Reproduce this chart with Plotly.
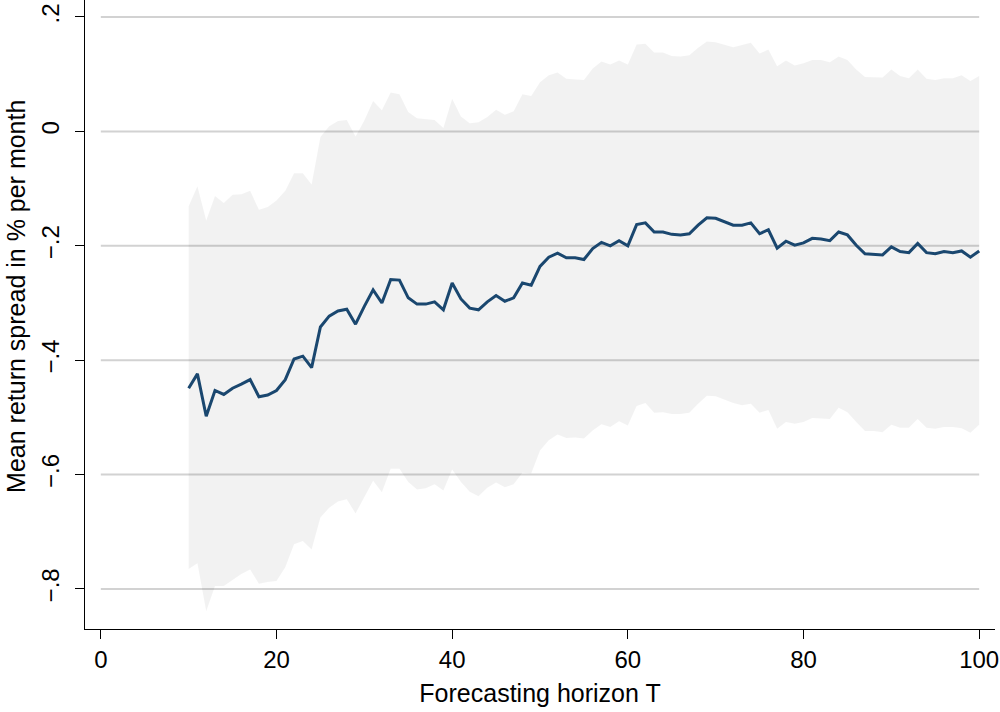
import plotly.graph_objects as go

horizon = list(range(10, 101))

mean_spread = [
    -0.449, -0.424, -0.498, -0.453, -0.460, -0.449, -0.442, -0.434, -0.464, -0.461,
    -0.453, -0.434, -0.398, -0.393, -0.413, -0.342, -0.323, -0.314, -0.311, -0.337,
    -0.306, -0.277, -0.300, -0.259, -0.260, -0.291, -0.302, -0.302, -0.298, -0.312,
    -0.265, -0.293, -0.309, -0.312, -0.298, -0.287, -0.297, -0.291, -0.265, -0.269,
    -0.236, -0.220, -0.213, -0.221, -0.221, -0.224, -0.205, -0.194, -0.200, -0.191,
    -0.200, -0.163, -0.160, -0.176, -0.176, -0.180, -0.181, -0.179, -0.164, -0.151,
    -0.152, -0.158, -0.164, -0.164, -0.160, -0.179, -0.172, -0.204, -0.192, -0.199,
    -0.195, -0.187, -0.188, -0.191, -0.176, -0.181, -0.199, -0.214, -0.215, -0.216,
    -0.202, -0.210, -0.212, -0.196, -0.212, -0.214, -0.210, -0.212, -0.209, -0.220,
    -0.209,
]

upper_band = [
    -0.131, -0.096, -0.156, -0.113, -0.125, -0.111, -0.110, -0.104, -0.137, -0.132,
    -0.121, -0.104, -0.073, -0.073, -0.093, -0.010, 0.009, 0.018, 0.020, -0.009,
    0.019, 0.053, 0.037, 0.068, 0.065, 0.034, 0.023, 0.021, 0.020, 0.006,
    0.057, 0.026, 0.014, 0.016, 0.025, 0.038, 0.029, 0.035, 0.065, 0.062,
    0.086, 0.098, 0.103, 0.092, 0.091, 0.090, 0.110, 0.122, 0.117, 0.124,
    0.117, 0.152, 0.153, 0.138, 0.138, 0.132, 0.131, 0.133, 0.146, 0.157,
    0.156, 0.152, 0.147, 0.151, 0.155, 0.136, 0.143, 0.114, 0.124, 0.115,
    0.119, 0.125, 0.125, 0.121, 0.131, 0.125, 0.108, 0.095, 0.094, 0.094,
    0.108, 0.097, 0.093, 0.108, 0.092, 0.090, 0.093, 0.093, 0.098, 0.088,
    0.097,
]

lower_band = [
    -0.765, -0.755, -0.839, -0.795, -0.795, -0.785, -0.774, -0.766, -0.791, -0.788,
    -0.786, -0.762, -0.722, -0.716, -0.731, -0.675, -0.658, -0.647, -0.643, -0.668,
    -0.640, -0.611, -0.631, -0.590, -0.590, -0.613, -0.626, -0.624, -0.617, -0.628,
    -0.591, -0.613, -0.630, -0.638, -0.623, -0.614, -0.622, -0.617, -0.597, -0.598,
    -0.558, -0.540, -0.530, -0.536, -0.535, -0.537, -0.523, -0.512, -0.517, -0.507,
    -0.514, -0.480, -0.475, -0.492, -0.491, -0.494, -0.494, -0.492, -0.476, -0.462,
    -0.463, -0.469, -0.475, -0.479, -0.476, -0.492, -0.487, -0.520, -0.508, -0.511,
    -0.508, -0.501, -0.502, -0.503, -0.483, -0.491, -0.508, -0.524, -0.524, -0.526,
    -0.513, -0.518, -0.518, -0.503, -0.518, -0.520, -0.517, -0.517, -0.519, -0.527,
    -0.513,
]

x_ticks = [0, 20, 40, 60, 80, 100]
y_ticks = [-0.8, -0.6, -0.4, -0.2, 0, 0.2]
y_tick_text = ["\u2212.8", "\u2212.6", "\u2212.4", "\u2212.2", "0", ".2"]

x_title = "Forecasting horizon T"
y_title = "Mean return spread in % per month"

FONT = "Liberation Sans, Arial, Helvetica, sans-serif"

fig = go.Figure()

fig.add_trace(go.Scatter(
    x=horizon, y=upper_band, mode="lines",
    line=dict(width=0, color="rgba(0,0,0,0)"),
    hoverinfo="skip", showlegend=False,
))
fig.add_trace(go.Scatter(
    x=horizon, y=lower_band, mode="lines",
    line=dict(width=0, color="rgba(0,0,0,0)"),
    fill="tonexty", fillcolor="rgba(0,0,0,0.05)",
    hoverinfo="skip", showlegend=False,
))
fig.add_trace(go.Scatter(
    x=horizon, y=mean_spread, mode="lines",
    line=dict(width=3, color="#1a476f"),
    showlegend=False,
))

for v in y_ticks:
    fig.add_shape(type="line", xref="x", yref="y",
                  x0=x_ticks[0], x1=x_ticks[-1], y0=v, y1=v,
                  line=dict(color="#d2d2d2", width=2), layer="below")

fig.update_layout(
    width=1000, height=712,
    paper_bgcolor="white", plot_bgcolor="white",
    margin=dict(l=85, r=5, t=0, b=83),
    font=dict(family=FONT, size=24, color="black"),
)

fig.update_xaxes(
    range=[-1.8, 101.8],
    tickvals=x_ticks,
    showgrid=False, zeroline=False,
    showline=True, linecolor="black", linewidth=1.2,
    ticks="outside", ticklen=9, tickwidth=1.2, tickcolor="black",
    tickfont=dict(size=24),
    title=dict(text=x_title, font=dict(size=25), standoff=12),
)
fig.update_yaxes(
    range=[-0.87, 0.2297],
    tickvals=y_ticks, ticktext=y_tick_text,
    tickangle=-90,
    showgrid=False, zeroline=False,
    showline=True, linecolor="black", linewidth=1.2,
    ticks="outside", ticklen=9, tickwidth=1.2, tickcolor="black",
    tickfont=dict(size=24),
    ticklabelstandoff=6,
)

fig.add_annotation(
    text=y_title, textangle=-90, showarrow=False,
    xref="paper", yref="paper", x=0, y=0.528,
    xanchor="center", yanchor="middle", xshift=-69,
    font=dict(size=25, family=FONT, color="black"),
)

fig.write_html("out.html", config={"displayModeBar": False},
               post_script="document.body.style.margin='0';")
